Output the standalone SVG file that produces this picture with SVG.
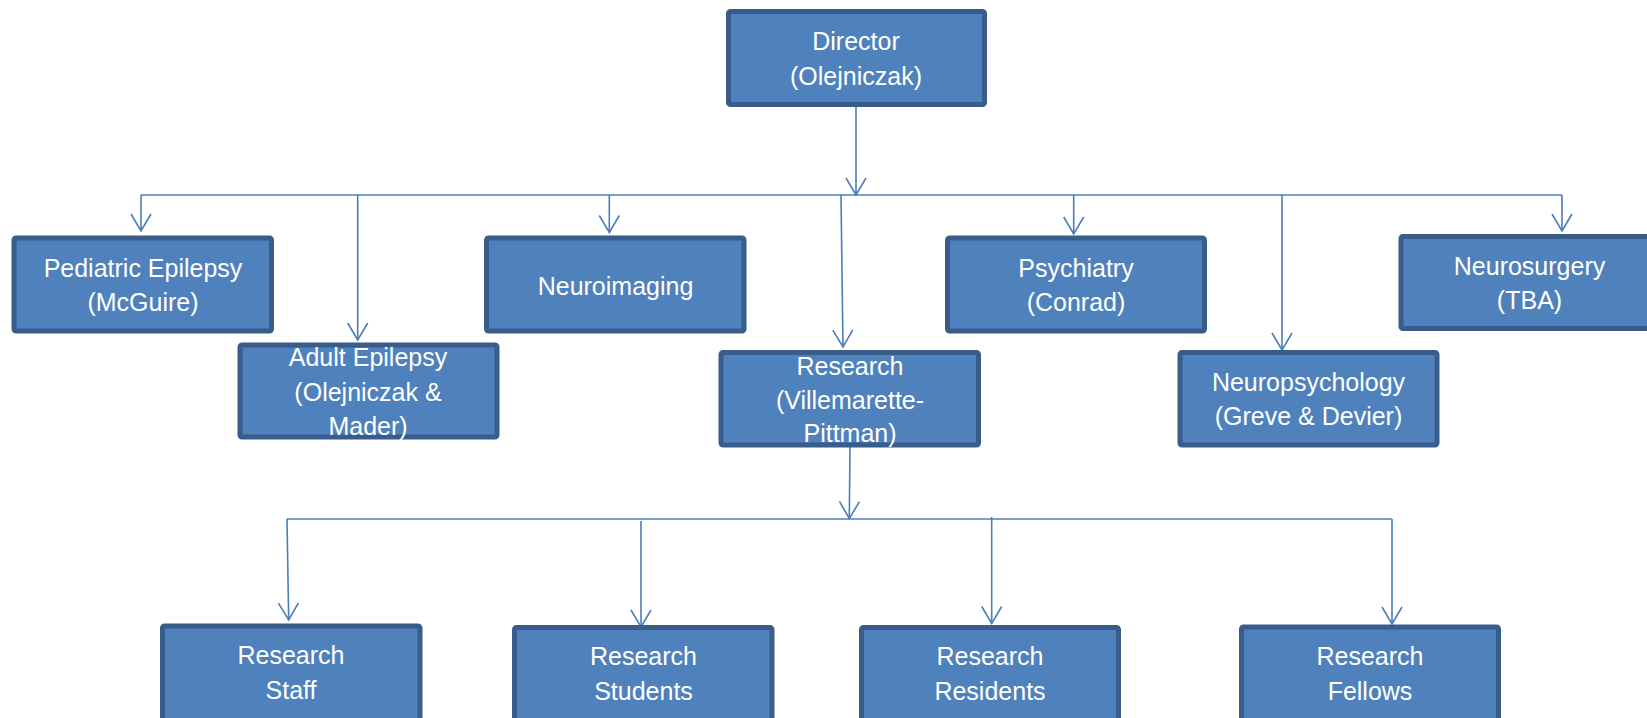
<svg xmlns="http://www.w3.org/2000/svg" width="1647" height="718" viewBox="0 0 1647 718">
<style>
.box{fill:#4F81BD;stroke:#385D8A;stroke-width:5}
.lbl{fill:#FFFFFF;font-family:"Liberation Sans",Arial,sans-serif;font-size:25px;text-anchor:middle}
.con{fill:none;stroke:#4A7EBB;stroke-width:1.6}
</style>
<defs>
<marker id="arr" markerUnits="userSpaceOnUse" markerWidth="22" markerHeight="24" refX="18" refY="11" orient="auto" overflow="visible">
<path d="M1,1 L18,11 L1,21" fill="none" stroke="#4A7EBB" stroke-width="1.6"/>
</marker>
</defs>
<rect width="1647" height="718" fill="#FFFFFF"/>
<g id="connectors">
<line class="con" x1="856" y1="107" x2="856" y2="195" marker-end="url(#arr)"/>
<line class="con" x1="141" y1="195" x2="1562" y2="195"/>
<line class="con" x1="141" y1="195" x2="141" y2="231" marker-end="url(#arr)"/>
<line class="con" x1="357.7" y1="195" x2="357.7" y2="340" marker-end="url(#arr)"/>
<line class="con" x1="609.3" y1="195" x2="609.3" y2="232.5" marker-end="url(#arr)"/>
<line class="con" x1="841" y1="195" x2="843" y2="347" marker-end="url(#arr)"/>
<line class="con" x1="1073.7" y1="195" x2="1073.7" y2="234" marker-end="url(#arr)"/>
<line class="con" x1="1282" y1="195" x2="1282" y2="350" marker-end="url(#arr)"/>
<line class="con" x1="1562" y1="195" x2="1562" y2="231" marker-end="url(#arr)"/>
<line class="con" x1="850" y1="447" x2="849.3" y2="518.5" marker-end="url(#arr)"/>
<line class="con" x1="287" y1="519" x2="1392" y2="519"/>
<line class="con" x1="287" y1="519" x2="288.7" y2="620" marker-end="url(#arr)"/>
<line class="con" x1="641" y1="521" x2="641" y2="627" marker-end="url(#arr)"/>
<line class="con" x1="991.7" y1="517" x2="991.7" y2="623.5" marker-end="url(#arr)"/>
<line class="con" x1="1392" y1="519" x2="1392" y2="624" marker-end="url(#arr)"/>
</g>
<g id="director">
<rect class="box" x="728.5" y="11.5" width="256" height="93" rx="2"/>
<text class="lbl" x="856" y="50">Director</text>
<text class="lbl" x="856" y="85">(Olejniczak)</text>
</g>
<g id="pediatric">
<rect class="box" x="14" y="238" width="257.5" height="93" rx="2"/>
<text class="lbl" x="143" y="277">Pediatric Epilepsy</text>
<text class="lbl" x="143" y="311">(McGuire)</text>
</g>
<g id="adult">
<rect class="box" x="240" y="345" width="257" height="92" rx="2"/>
<text class="lbl" x="368" y="366">Adult Epilepsy</text>
<text class="lbl" x="368" y="401">(Olejniczak &amp;</text>
<text class="lbl" x="368" y="435">Mader)</text>
</g>
<g id="neuroimaging">
<rect class="box" x="486.5" y="238" width="257.5" height="93" rx="2"/>
<text class="lbl" x="615.5" y="295">Neuroimaging</text>
</g>
<g id="research">
<rect class="box" x="721" y="352.5" width="257.5" height="92.5" rx="2"/>
<text class="lbl" x="850" y="374.5">Research</text>
<text class="lbl" x="850" y="408.5">(Villemarette-</text>
<text class="lbl" x="850" y="442">Pittman)</text>
</g>
<g id="psychiatry">
<rect class="box" x="947.5" y="238" width="257" height="93" rx="2"/>
<text class="lbl" x="1076" y="277">Psychiatry</text>
<text class="lbl" x="1076" y="311">(Conrad)</text>
</g>
<g id="neuropsychology">
<rect class="box" x="1180" y="352.5" width="257" height="92.5" rx="2"/>
<text class="lbl" x="1308.5" y="391">Neuropsychology</text>
<text class="lbl" x="1308.5" y="425">(Greve &amp; Devier)</text>
</g>
<g id="neurosurgery">
<rect class="box" x="1401" y="236.5" width="257" height="92" rx="2"/>
<text class="lbl" x="1529.5" y="275">Neurosurgery</text>
<text class="lbl" x="1529.5" y="309">(TBA)</text>
</g>
<g id="staff">
<rect class="box" x="162.5" y="626" width="257.5" height="100" rx="2"/>
<text class="lbl" x="291" y="664">Research</text>
<text class="lbl" x="291" y="699">Staff</text>
</g>
<g id="students">
<rect class="box" x="514.5" y="627.5" width="257.5" height="100" rx="2"/>
<text class="lbl" x="643.5" y="665">Research</text>
<text class="lbl" x="643.5" y="700">Students</text>
</g>
<g id="residents">
<rect class="box" x="861.5" y="627.5" width="257" height="100" rx="2"/>
<text class="lbl" x="990" y="665">Research</text>
<text class="lbl" x="990" y="700">Residents</text>
</g>
<g id="fellows">
<rect class="box" x="1241.5" y="627" width="257" height="100" rx="2"/>
<text class="lbl" x="1370" y="665">Research</text>
<text class="lbl" x="1370" y="700">Fellows</text>
</g>
</svg>
